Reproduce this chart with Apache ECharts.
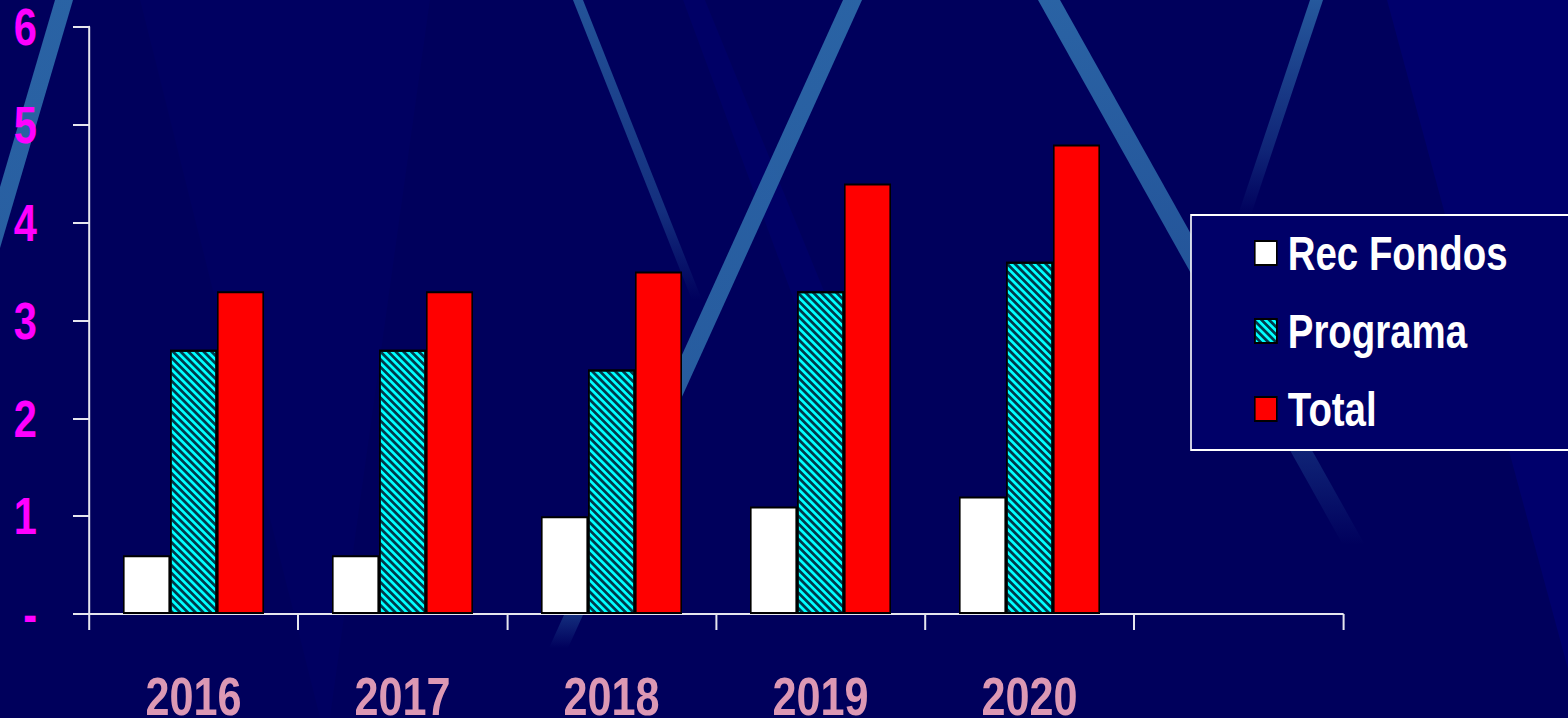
<!DOCTYPE html>
<html>
<head>
<meta charset="utf-8">
<title>Rec Fondos / Programa / Total</title>
<script src="https://cdn.jsdelivr.net/npm/echarts@6/dist/echarts.min.js"></script>
<style>
  html, body { margin: 0; padding: 0; background: #00005c; overflow: hidden; }
  /* The slide artwork uses condensed lettering: the chart is laid out on a wider
     canvas and squeezed horizontally so glyphs get the same narrow proportions. */
  #chart { width: 1960px; height: 718px; transform: scaleX(0.8); transform-origin: 0 0; }
</style>
</head>
<body>
<div id="chart"></div>
<script>
// Years on the category axis; the last slot is intentionally left empty.
const categories = ['2016', '2017', '2018', '2019', '2020', ''];

// Series values (one per year)
const recFondos = [0.6, 0.6, 1.0, 1.1, 1.2];
const programa  = [2.7, 2.7, 2.5, 3.3, 3.6];
const total     = [3.3, 3.3, 3.5, 4.4, 4.8];

// Value-axis tick labels, 0..6 (zero is shown as a dash)
const yTickLabels = ['-', '1', '2', '3', '4', '5', '6'];

const SX = 0.8;                 // horizontal squeeze applied to the container
const fx = x => x / SX;         // on-screen x -> layout x
const FONT = "'Liberation Sans', Arial, Helvetica, sans-serif";

// Decorative background: navy field with light-blue diagonal rays
function ray(points, y0, y1, stops) {
  return {
    type: 'polygon', z: -100, silent: true,
    shape: { points: points.map(p => [fx(p[0]), p[1]]) },
    style: {
      fill: {
        type: 'linear', global: true, x: 0, y: y0, x2: 0, y2: y1,
        colorStops: stops
      }
    }
  };
}
function wedge(points, fill) {
  return { type: 'polygon', z: -105, silent: true,
           shape: { points: points.map(p => [fx(p[0]), p[1]]) }, style: { fill: fill } };
}
const rayBlue = a => 'rgba(44,104,168,' + a + ')';

const backdrop = [
  { type: 'rect', z: -110, silent: true, shape: { x: 0, y: 0, width: fx(1568), height: 718 },
    style: { fill: '#00005c' } },
  // soft lighter wedges
  wedge([[1387, 0], [1568, 0], [1568, 669]], '#00006c'),
  wedge([[140, 0], [430, 0], [330, 718], [320, 718]], 'rgba(0,0,110,0.3)'),
  wedge([[683, 0], [705, 0], [840, 330], [805, 330]], 'rgba(0,0,130,0.25)'),
  // light rays
  ray([[55, 0], [73, 0], [-30, 350], [-48, 350]], 0, 350,
      [{ offset: 0, color: rayBlue(0.95) }, { offset: 1, color: rayBlue(0.9) }]),
  ray([[573, 0], [583, 0], [702, 300], [692, 300]], 0, 300,
      [{ offset: 0, color: rayBlue(0.8) }, { offset: 0.7, color: rayBlue(0.45) }, { offset: 1, color: rayBlue(0) }]),
  ray([[843, 0], [862, 0], [568, 648], [549, 648]], 0, 648,
      [{ offset: 0, color: rayBlue(0.95) }, { offset: 0.9, color: rayBlue(0.85) }, { offset: 1, color: rayBlue(0) }]),
  ray([[1038, 0], [1060, 0], [1365, 545], [1343, 545]], 0, 545,
      [{ offset: 0, color: rayBlue(0.95) }, { offset: 0.55, color: rayBlue(0.8) }, { offset: 0.85, color: rayBlue(0.3) }, { offset: 1, color: rayBlue(0) }]),
  ray([[1310, 0], [1323, 0], [1251, 215], [1238, 215]], 0, 215,
      [{ offset: 0, color: rayBlue(0.85) }, { offset: 0.7, color: rayBlue(0.35) }, { offset: 1, color: rayBlue(0) }])
];

const AXIS_COLOR = '#e6e6ee';
const barBorder = { borderColor: '#000000', borderWidth: 2 };
const BAR_W = fx(47);

const chart = echarts.init(document.getElementById('chart'), null, { renderer: 'svg' });
chart.setOption({
  backgroundColor: '#00005c',
  animation: false,
  graphic: { elements: backdrop },
  grid: { left: fx(89), right: fx(225), top: 27, bottom: 104,
          containLabel: false, outerBoundsMode: 'none' },
  legend: {
    orient: 'vertical',
    left: fx(1191), top: 215,
    padding: [14, fx(120), 17, fx(63)],
    itemGap: 30,
    itemWidth: fx(22), itemHeight: 24,
    backgroundColor: '#000068',
    borderColor: '#ffffff', borderWidth: 2, borderRadius: 0,
    icon: 'rect',
    itemStyle: { borderColor: '#000000', borderWidth: 2 },
    textStyle: {
      color: '#ffffff', fontSize: 48, fontWeight: 'bold', fontFamily: FONT,
      lineHeight: 46, padding: [0, 0, 0, fx(7)]
    },
    data: ['Rec Fondos', 'Programa', 'Total']
  },
  xAxis: {
    type: 'category',
    data: categories,
    boundaryGap: true,
    axisLine: { show: true, lineStyle: { color: AXIS_COLOR, width: 2 } },
    axisTick: { show: true, inside: false, length: 16, alignWithLabel: false,
                lineStyle: { color: AXIS_COLOR, width: 2.5 } },
    axisLabel: { color: '#dc98b4', fontSize: 54, fontWeight: 'bold', fontFamily: FONT,
                 margin: 55, lineHeight: 54 },
    splitLine: { show: false }
  },
  yAxis: {
    type: 'value',
    min: 0, max: 6, interval: 1,
    axisLine: { show: true, lineStyle: { color: AXIS_COLOR, width: 2.5 } },
    axisTick: { show: true, inside: false, length: fx(16), lineStyle: { color: AXIS_COLOR, width: 2 } },
    axisLabel: {
      color: '#ff00ff', fontSize: 52, fontWeight: 'bold', fontFamily: FONT, margin: fx(52),
      formatter: (v) => yTickLabels[Math.round(v)]
    },
    splitLine: { show: false }
  },
  series: [
    {
      name: 'Rec Fondos', type: 'bar', data: recFondos,
      barWidth: BAR_W, barGap: '0%',
      itemStyle: Object.assign({ color: '#ffffff' }, barBorder)
    },
    {
      name: 'Programa', type: 'bar', data: programa,
      barWidth: BAR_W, barGap: '0%',
      itemStyle: Object.assign({
        color: '#00ffff',
        decal: {
          symbol: 'rect', symbolSize: 1,
          dashArrayX: [1, 0], dashArrayY: [3, 3],
          rotation: Math.atan(SX),
          color: 'rgba(0,35,55,0.9)'
        }
      }, barBorder)
    },
    {
      name: 'Total', type: 'bar', data: total,
      barWidth: BAR_W, barGap: '0%',
      itemStyle: Object.assign({ color: '#ff0000' }, barBorder)
    }
  ]
});
</script>
</body>
</html>
